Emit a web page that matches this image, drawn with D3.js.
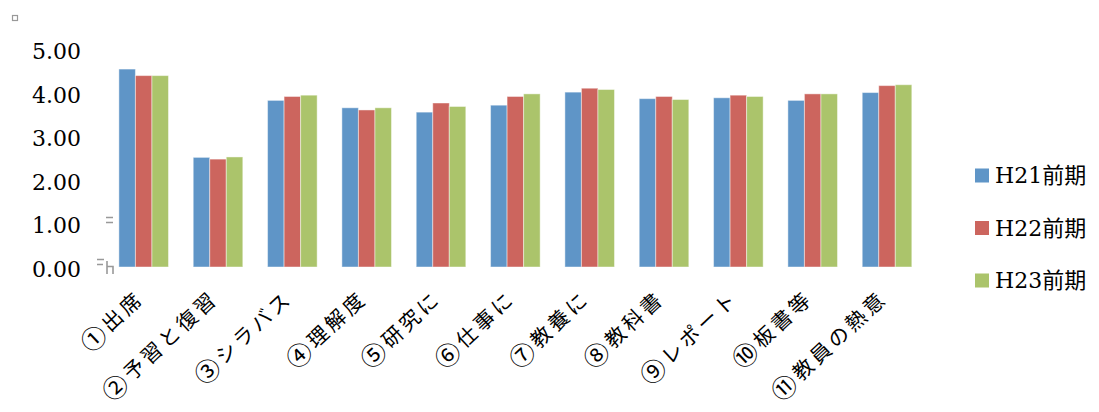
<!DOCTYPE html>
<html>
<head>
<meta charset="utf-8">
<script src="https://cdn.jsdelivr.net/npm/d3@7"></script>
<style>
  html, body { margin: 0; padding: 0; background: #fff; }
  svg { display: block; }
</style>
</head>
<body>
<svg id="chart" width="1099" height="412"></svg>
<script>
// Category labels along the x axis
const categories = ["①出席", "②予習と復習", "③シラバス", "④理解度", "⑤研究に", "⑥仕事に",
                    "⑦教養に", "⑧教科書", "⑨レポート", "⑩板書等", "⑪教員の熱意"];
// Series names shown in the legend
const seriesNames = ["H21前期", "H22前期", "H23前期"];
// Average scores per term
const h21 = [4.55, 2.52, 3.83, 3.66, 3.56, 3.72, 4.02, 3.87, 3.89, 3.83, 4.01];
const h22 = [4.40, 2.48, 3.92, 3.61, 3.77, 3.92, 4.11, 3.92, 3.95, 3.98, 4.17];
const h23 = [4.40, 2.53, 3.95, 3.66, 3.69, 3.98, 4.08, 3.85, 3.92, 3.98, 4.19];
// Value axis ticks
const yTicks = [0, 1, 2, 3, 4, 5];

const seriesValues = [h21, h22, h23];
const colors = ["#5f95c7", "#cc655e", "#abc46b"];

const svg = d3.select("#chart");

const x0 = d3.scaleBand()
  .domain(categories)
  .range([106.5, 924.2])
  .paddingInner(0.333)
  .paddingOuter(0.1667);

const x1 = d3.scaleBand()
  .domain(seriesNames)
  .range([0, x0.bandwidth()]);

const y = d3.scaleLinear().domain([0, 5]).range([267, 49.5]);

const rows = categories.map((c, i) => ({
  cat: c,
  vals: seriesNames.map((s, k) => ({ s, k, v: seriesValues[k][i] }))
}));

// Bars
const groups = svg.append("g").selectAll("g")
  .data(rows).join("g")
  .attr("transform", d => `translate(${x0(d.cat)},0)`);

groups.selectAll("rect")
  .data(d => d.vals).join("rect")
  .attr("x", d => x1(d.s))
  .attr("y", d => y(d.v))
  .attr("width", x1.bandwidth())
  .attr("height", d => y(0) - y(d.v))
  .attr("fill", d => colors[d.k])
  .attr("stroke", "#ffffff")
  .attr("stroke-opacity", 0.45)
  .attr("stroke-width", 1);

// Value axis labels
const yAxis = d3.axisLeft(y)
  .tickValues(yTicks)
  .tickFormat(d3.format(".2f"))
  .tickSize(0)
  .tickPadding(0);

const yg = svg.append("g")
  .attr("transform", "translate(81,0)")
  .call(yAxis);
yg.select(".domain").remove();
yg.selectAll("text")
  .attr("font-family", "'DejaVu Serif', serif")
  .attr("font-size", 22)
  .attr("fill", "#000")
  .attr("dy", "0.42em");

// Category labels, rotated; the circled number is set a little larger
const xAxis = d3.axisBottom(x0).tickSize(0).tickPadding(0);
const xg = svg.append("g").call(xAxis);
xg.select(".domain").remove();
xg.selectAll(".tick").attr("transform", d => `translate(${x0(d) + x0.bandwidth() / 2 + 1.5},300)`);
const xt = xg.selectAll("text")
  .attr("font-family", "'Noto Sans CJK JP', sans-serif")
  .attr("font-size", 20.5)
  .attr("letter-spacing", "3.5px")
  .attr("fill", "#000")
  .attr("text-anchor", "end")
  .attr("x", 0).attr("y", 0)
  .attr("dy", "0.8em")
  .attr("transform", "rotate(-43)")
  .text(null);
xt.append("tspan")
  .attr("font-size", 25)
  .attr("dy", "0.1em")
  .text(d => d.slice(0, 1));
xt.append("tspan")
  .attr("dy", "-0.12em")
  .text(d => d.slice(1));

// Legend
const legend = svg.append("g").selectAll("g")
  .data(seriesNames).join("g")
  .attr("transform", (d, i) => `translate(975,${175.5 + i * 52.5})`);
legend.append("rect")
  .attr("x", 0).attr("y", -7)
  .attr("width", 14).attr("height", 14)
  .attr("fill", (d, i) => colors[i]);
legend.append("text")
  .attr("x", 20).attr("y", 0)
  .attr("dy", "0.36em")
  .attr("font-family", "'DejaVu Serif', 'Noto Sans CJK JP', serif")
  .attr("font-size", 22)
  .attr("fill", "#000")
  .text(d => d);

// Small marks near the axis and the handle at the corner
const marks = svg.append("g").attr("stroke", "#999").attr("fill", "none").attr("stroke-width", 1.6);
marks.append("path").attr("d", "M106,217.5H113M106,222.5H113");
marks.append("path").attr("d", "M97,259.5H104M97,264.5H103M107,261V274M107,266.5H113V274");
svg.append("rect")
  .attr("x", 12.5).attr("y", 15.5).attr("width", 5).attr("height", 5)
  .attr("fill", "none").attr("stroke", "#999").attr("stroke-width", 1.2);
</script>
</body>
</html>
